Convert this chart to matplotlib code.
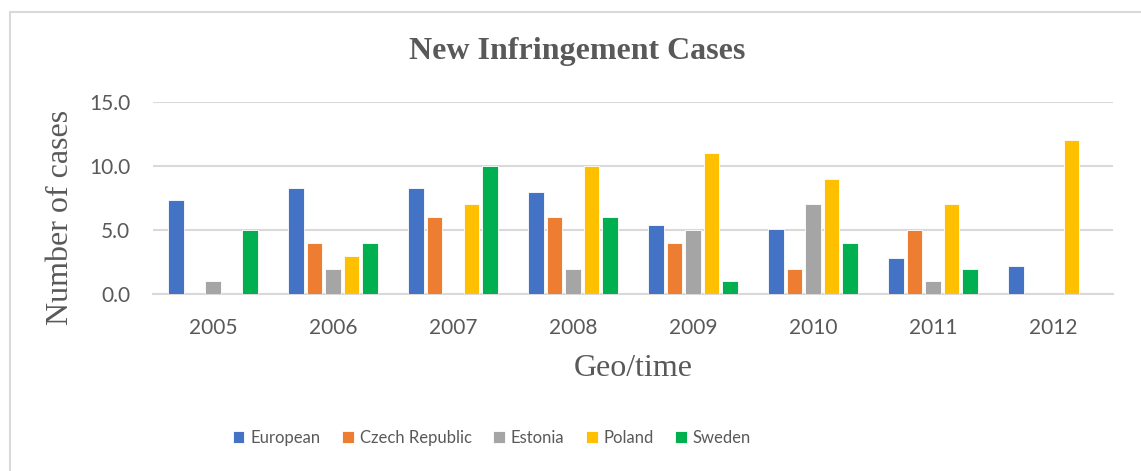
import numpy as np
import matplotlib
matplotlib.use('Agg')
import matplotlib.pyplot as plt
from matplotlib.patches import Rectangle

years = ['2005', '2006', '2007', '2008', '2009', '2010', '2011', '2012']
series_names = ['European', 'Czech Republic', 'Estonia', 'Poland', 'Sweden']
european = [7.35, 8.3, 8.3, 8.0, 5.4, 5.05, 2.8, 2.2]
czech = [0, 4, 6, 6, 4, 2, 5, 0]
estonia = [1, 2, 0, 2, 5, 7, 1, 0]
poland = [0, 3, 7, 10, 11, 9, 7, 12]
sweden = [5, 4, 10, 6, 1, 4, 2, 0]
colors = ['#4472C4', '#ED7D31', '#A5A5A5', '#FFC000', '#00B050']

grey = '#595959'

fig = plt.figure(figsize=(11.41, 4.71), dpi=100)
ax = fig.add_axes([153 / 1141, 1 - 294.3 / 471, 960 / 1141, 192.6 / 471])

# light frame around the chart area
fig.patches.append(Rectangle((10 / 1141, -0.1), 1.2, 1.1 - 12 / 471,
                             transform=fig.transFigure, fill=False,
                             edgecolor='#D9D9D9', linewidth=1.5))

x = np.arange(len(years))
step = 0.154
bw = 0.128
for i, (name, vals) in enumerate(zip(series_names,
                                     [european, czech, estonia, poland, sweden])):
    ax.bar(x + (i - 2) * step, vals, width=bw, color=colors[i],
           edgecolor='white', linewidth=0.6, label=name, zorder=3)

ax.set_xlim(-0.5, len(years) - 0.5)
ax.set_ylim(0, 15)
ax.set_yticks([0, 5, 10, 15])
ax.set_yticklabels(['%.1f' % v for v in [0, 5, 10, 15]])
ax.set_xticks(x)
ax.set_xticklabels(years)
ax.grid(axis='y', color='#D9D9D9', linewidth=1.5, zorder=0)
ax.tick_params(length=0, labelsize=15, labelcolor=grey)
ax.tick_params(axis='x', pad=17)
ax.tick_params(axis='y', pad=16.5)
for lbl in ax.get_xticklabels() + ax.get_yticklabels():
    lbl.set_family('Lato')
for s in ['top', 'right', 'left']:
    ax.spines[s].set_visible(False)
ax.spines['bottom'].set_color('#D9D9D9')
ax.spines['bottom'].set_linewidth(1.5)

fig.text(577 / 1141, 1 - 52 / 471, 'New Infringement Cases', ha='center', va='center',
         family='Liberation Serif', fontweight='bold', fontsize=23, color=grey)
fig.text(633 / 1141, 1 - 368 / 471, 'Geo/time', ha='center', va='center',
         family='Liberation Serif', fontsize=23, color=grey)
fig.text(60 / 1141, 1 - 217 / 471, 'Number of cases', ha='center', va='center',
         rotation=90, family='Liberation Serif', fontsize=23, color=grey)

leg = fig.legend(loc='center', bbox_to_anchor=(492 / 1141, 1 - 438 / 471), ncol=5,
                 frameon=False, handlelength=0.7, handleheight=0.7,
                 handletextpad=0.35, columnspacing=1.3,
                 prop={'family': 'Lato', 'size': 12})
for t in leg.get_texts():
    t.set_color(grey)

fig.savefig('out.png', dpi=100)
